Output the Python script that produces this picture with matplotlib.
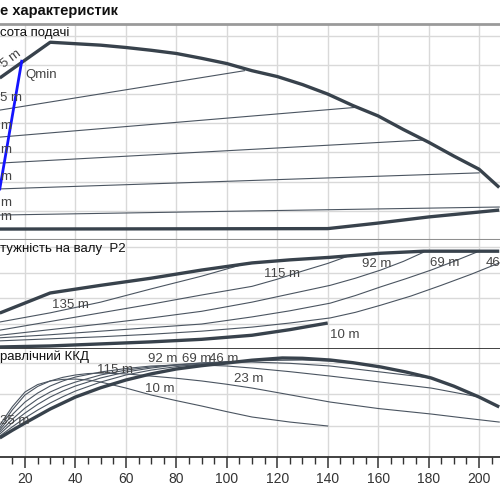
import matplotlib
matplotlib.use('Agg')
import matplotlib.pyplot as plt
from matplotlib.ticker import MultipleLocator

plt.rcParams['font.family'] = ['Liberation Sans', 'DejaVu Sans']

# ---- head (Висота подачі), Q in m3/h, H in m ----
q_hmax = [10, 30, 50, 60, 70, 80, 90, 100, 110, 120, 130, 140, 150, 160, 170, 180, 190, 200, 208]
h_hmax = [111, 135.5, 133.5, 131.9, 130, 127.8, 124.5, 120.9, 116, 112, 106.5, 100, 92.1, 85,
          75.7, 67, 57.5, 48.5, 36]
q_hmin = [10, 140, 160, 180, 208]
h_hmin = [7.5, 7.8, 11.6, 15.8, 20.5]
h_lines = {
    '115': ([10, 107], [89, 116]),
    '92': ([10, 152], [70.5, 91]),
    '69': ([10, 178], [52.7, 68.5]),
    '46': ([10, 200], [35, 46]),
    '23': ([10, 109, 208], [17.1, 19.9, 22.6]),
}
q_qmin = [10, 18.7]
h_qmin = [35, 122.5]

# ---- power P2, kW ----
q_pmax = [10, 30, 50, 70, 90, 110, 125, 141, 161, 178, 208]
p_pmax = [7.06, 11.0, 12.5, 13.9, 15.5, 16.9, 17.5, 18.0, 18.8, 19.2, 19.2]
q_pmin = [10, 30, 50, 70, 90, 110, 125, 140]
p_pmin = [0.4, 0.6, 1.0, 1.4, 1.9, 2.7, 3.8, 5.1]
p_lines = {
    '135': ([10, 30, 50, 70, 90, 107], [5.3, 7.1, 9.2, 11.8, 14.3, 16.7]),
    '115': ([10, 30, 50, 70, 90, 110, 120, 130, 140, 149],
            [3.7, 5.4, 7.1, 8.8, 10.6, 12.3, 13.7, 15.3, 16.8, 18.4]),
    '92': ([10, 30, 50, 70, 90, 110, 125, 141, 151, 161, 170, 178],
           [2.7, 3.8, 4.9, 6.1, 7.4, 9.2, 10.8, 12.5, 13.9, 15.5, 17.2, 19.0]),
    '69': ([10, 30, 50, 70, 90, 110, 125, 141, 151, 161, 171, 181, 190, 199],
           [2.2, 2.8, 3.5, 4.2, 4.9, 6.3, 7.5, 9.0, 10.5, 12.2, 13.8, 15.5, 17.2, 19.0]),
    '46': ([10, 30, 50, 70, 90, 110, 125, 141, 151, 161, 173, 185, 197, 208],
           [1.6, 2.0, 2.4, 2.9, 3.5, 4.3, 5.1, 6.1, 7.2, 8.6, 10.4, 12.5, 14.7, 16.9]),
}

# ---- hydraulic efficiency, % ----
q_emax = [10, 15, 20, 30, 40, 50, 60, 70, 80, 90, 100, 110, 122, 130, 141, 150, 161, 171,
          181, 190, 200, 208]
e_emax = [12.1, 17.0, 21.6, 30.5, 38.1, 44.0, 48.9, 52.8, 55.9, 58.0, 59.7, 61.5, 62.9, 62.7,
          61.6, 59.9, 57.2, 54.0, 50.2, 45.0, 38.1, 31.8]
e_lines = {
    '115': ([10, 15, 20, 25, 30, 35, 40, 50, 60, 70, 80, 90, 100, 110, 122],
            [13.3, 19.2, 24.8, 29.8, 34.3, 38.3, 41.9, 47.6, 52.1, 55.2, 57.4, 59.1, 60.3,
             61.0, 62.9]),
    '92': ([10, 15, 20, 25, 30, 35, 40, 50, 60, 70, 80, 90, 100, 110, 120, 130, 140, 150, 161],
           [14.6, 21.8, 27.9, 33.4, 38.1, 41.9, 45.1, 50.2, 54.0, 56.5, 58.4, 59.7, 60.5, 61.0,
            61.4, 61.6, 61.0, 59.7, 57.2]),
    '69': ([10, 15, 20, 25, 30, 35, 40, 50, 60, 70, 80, 90, 100, 110, 125, 141, 161, 181],
           [15.9, 24.0, 31.1, 36.8, 41.3, 44.8, 47.6, 52.1, 55.2, 57.2, 58.7, 59.7, 60.2, 60.3,
            59.5, 57.8, 54.0, 50.2]),
    '46': ([10, 15, 20, 25, 30, 35, 40, 50, 60, 70, 80, 90, 100, 110, 125, 141, 161, 181, 200],
           [17.1, 27.0, 34.9, 40.6, 45.1, 48.3, 50.8, 54.0, 56.2, 57.8, 58.4, 58.4, 57.8, 56.5,
            54.2, 51.4, 47.6, 43.8, 38.1]),
    '23': ([10, 15, 20, 25, 30, 35, 40, 45, 50, 60, 70, 80, 90, 100, 110, 125, 141, 160, 181,
            195, 208],
           [18.4, 30.0, 39.4, 44.8, 48.3, 50.6, 52.1, 53.0, 53.3, 52.8, 51.4, 50.0, 48.3, 46.2,
            43.8, 39.5, 34.9, 30.8, 27.3, 24.6, 22.2]),
    '10': ([10, 15, 20, 25, 30, 35, 40, 45, 50, 60, 70, 80, 90, 100, 110, 125, 140],
           [20.3, 32.0, 41.3, 46.0, 48.3, 49.3, 49.5, 48.9, 47.6, 43.8, 39.4, 35.8, 32.4, 28.8,
            25.4, 22.2, 19.7]),
}

thick = dict(color='#38424c', lw=2.4, solid_capstyle='butt', solid_joinstyle='round', zorder=3)
thin = dict(color='#4b5561', lw=0.8, solid_joinstyle='round', zorder=2)
lab = dict(fontsize=9.5, color='#444444', zorder=4)
grid_c = '#d9d9d9'

fig = plt.figure(figsize=(5, 5), dpi=100)
ax1 = fig.add_axes([0, 0.52, 1, 0.432])
ax2 = fig.add_axes([0, 0.302, 1, 0.218])
ax3 = fig.add_axes([0, 0.086, 1, 0.216])

for ax in (ax1, ax2, ax3):
    ax.set_xlim(10.09, 208.3)
    ax.xaxis.set_major_locator(MultipleLocator(20))
    ax.grid(True, color=grid_c, lw=1.0, zorder=0)
    ax.set_axisbelow(True)
    ax.spines['left'].set_visible(False)
    ax.spines['right'].set_visible(False)
    ax.tick_params(left=False, labelleft=False)

ax1.set_ylim(0, 148)
ax1.yaxis.set_major_locator(MultipleLocator(20))
ax1.spines['top'].set_color('#9a9a9a')
ax1.spines['top'].set_linewidth(2)
ax1.spines['bottom'].set_color('#8f8f8f')
ax1.spines['bottom'].set_linewidth(1.5)
ax1.tick_params(bottom=False, labelbottom=False)

ax2.set_ylim(0, 21.4)
ax2.yaxis.set_major_locator(MultipleLocator(5))
ax2.spines['top'].set_visible(False)
ax2.spines['bottom'].set_color('#333333')
ax2.spines['bottom'].set_linewidth(1.3)
ax2.tick_params(bottom=False, labelbottom=False)

ax3.set_ylim(0, 68.6)
ax3.yaxis.set_major_locator(MultipleLocator(20))
ax3.xaxis.set_minor_locator(MultipleLocator(5))
ax3.spines['top'].set_visible(False)
ax3.spines['bottom'].set_color('#333333')
ax3.spines['bottom'].set_linewidth(1.3)
ax3.tick_params(axis='x', which='major', length=8, width=1.1, color='#333333',
                labelsize=10, labelcolor='#333333', pad=3)
ax3.tick_params(axis='x', which='minor', length=5, width=1.0, color='#333333')
ax3.set_xticks(range(20, 201, 20))

# head panel
ax1.plot(q_hmax, h_hmax, **thick)
ax1.plot(q_hmin, h_hmin, **thick)
for k, (q, h) in h_lines.items():
    ax1.plot(q, h, **thin)
ax1.plot(q_qmin, h_qmin, color='#1414ff', lw=2.0, zorder=4)
ax1.text(20, 113, 'Qmin', ha='left', va='center', **lab)
ax1.text(14.6, 124, '5 m', ha='center', va='center', rotation=37, **lab)
ax1.text(10.2, 97.3, '5 m', ha='left', va='center', **lab)
for h in [78.1, 61.7, 43.2, 25.3, 15.8]:
    ax1.text(10.2, h, 'm', ha='left', va='center', **lab)

# power panel
ax2.plot(q_pmax, p_pmax, **thick)
ax2.plot(q_pmin, p_pmin, **thick)
for k, (q, p) in p_lines.items():
    ax2.plot(q, p, **thin)
ax2.text(38.2, 8.6, '135 m', ha='center', va='center', **lab)
ax2.text(121.9, 14.7, '115 m', ha='center', va='center', **lab)
ax2.text(159.6, 16.7, '92 m', ha='center', va='center', **lab)
ax2.text(186.5, 16.9, '69 m', ha='center', va='center', **lab)
ax2.text(202.8, 16.9, '46', ha='left', va='center', **lab)
ax2.text(146.9, 2.7, '10 m', ha='center', va='center', **lab)

# efficiency panel
ax3.plot(q_emax, e_emax, **thick)
for k, (q, e) in e_lines.items():
    ax3.plot(q, e, **thin)
ax3.text(10.2, 22.9, '35 m', ha='left', va='center', **lab)
ax3.text(55.7, 55.2, '115 m', ha='center', va='center', **lab)
ax3.text(74.7, 62.2, '92 m', ha='center', va='center', **lab)
ax3.text(88.1, 62.2, '69 m', ha='center', va='center', **lab)
ax3.text(98.9, 62.2, '46 m', ha='center', va='center', **lab)
ax3.text(108.8, 49.5, '23 m', ha='center', va='center', **lab)
ax3.text(73.5, 43.2, '10 m', ha='center', va='center', **lab)

# titles
fig.text(0.0, 0.978, 'е характеристик', ha='left', va='center',
         fontsize=10.5, fontweight='bold', color='#111111')
fig.text(0.0, 0.934, 'сота подачі', ha='left', va='center', fontsize=9.5, color='#111111')
fig.text(0.0, 0.502, 'тужність на валу  P2', ha='left', va='center', fontsize=9.5, color='#111111')
fig.text(0.0, 0.286, 'равлічний ККД', ha='left', va='center', fontsize=9.5, color='#111111')

fig.savefig('out.png', dpi=100)
